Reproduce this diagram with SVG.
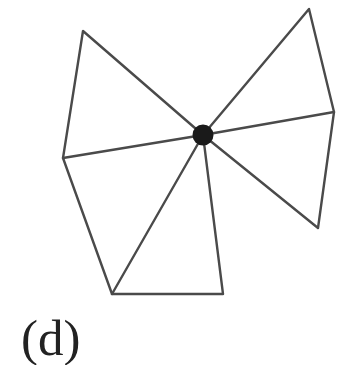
<svg xmlns="http://www.w3.org/2000/svg" width="337" height="365" viewBox="0 0 337 365">
<style>
.e{stroke:#4a4a4a;stroke-width:2.4;fill:none;stroke-linecap:round;stroke-linejoin:round}
.lbl{font-family:"Liberation Serif",serif;font-size:51px;fill:#222}
</style>
<rect width="337" height="365" fill="#fff"/>
<g id="connectors">
<path class="e" d="M83,31 L63,158 L112,294 L223,294 L203,135 Z"/>
<line class="e" x1="63" y1="158" x2="203" y2="135"/>
<line class="e" x1="112" y1="294" x2="203" y2="135"/>
<path class="e" d="M203,135 L309,9 L334,112 L318,228 Z"/>
<line class="e" x1="203" y1="135" x2="334" y2="112"/>
</g>
<g id="center"><circle cx="203" cy="135" r="10.5" fill="#1a1a1a"/></g>
<g id="label"><text class="lbl" x="21" y="355">(d)</text></g>
</svg>
